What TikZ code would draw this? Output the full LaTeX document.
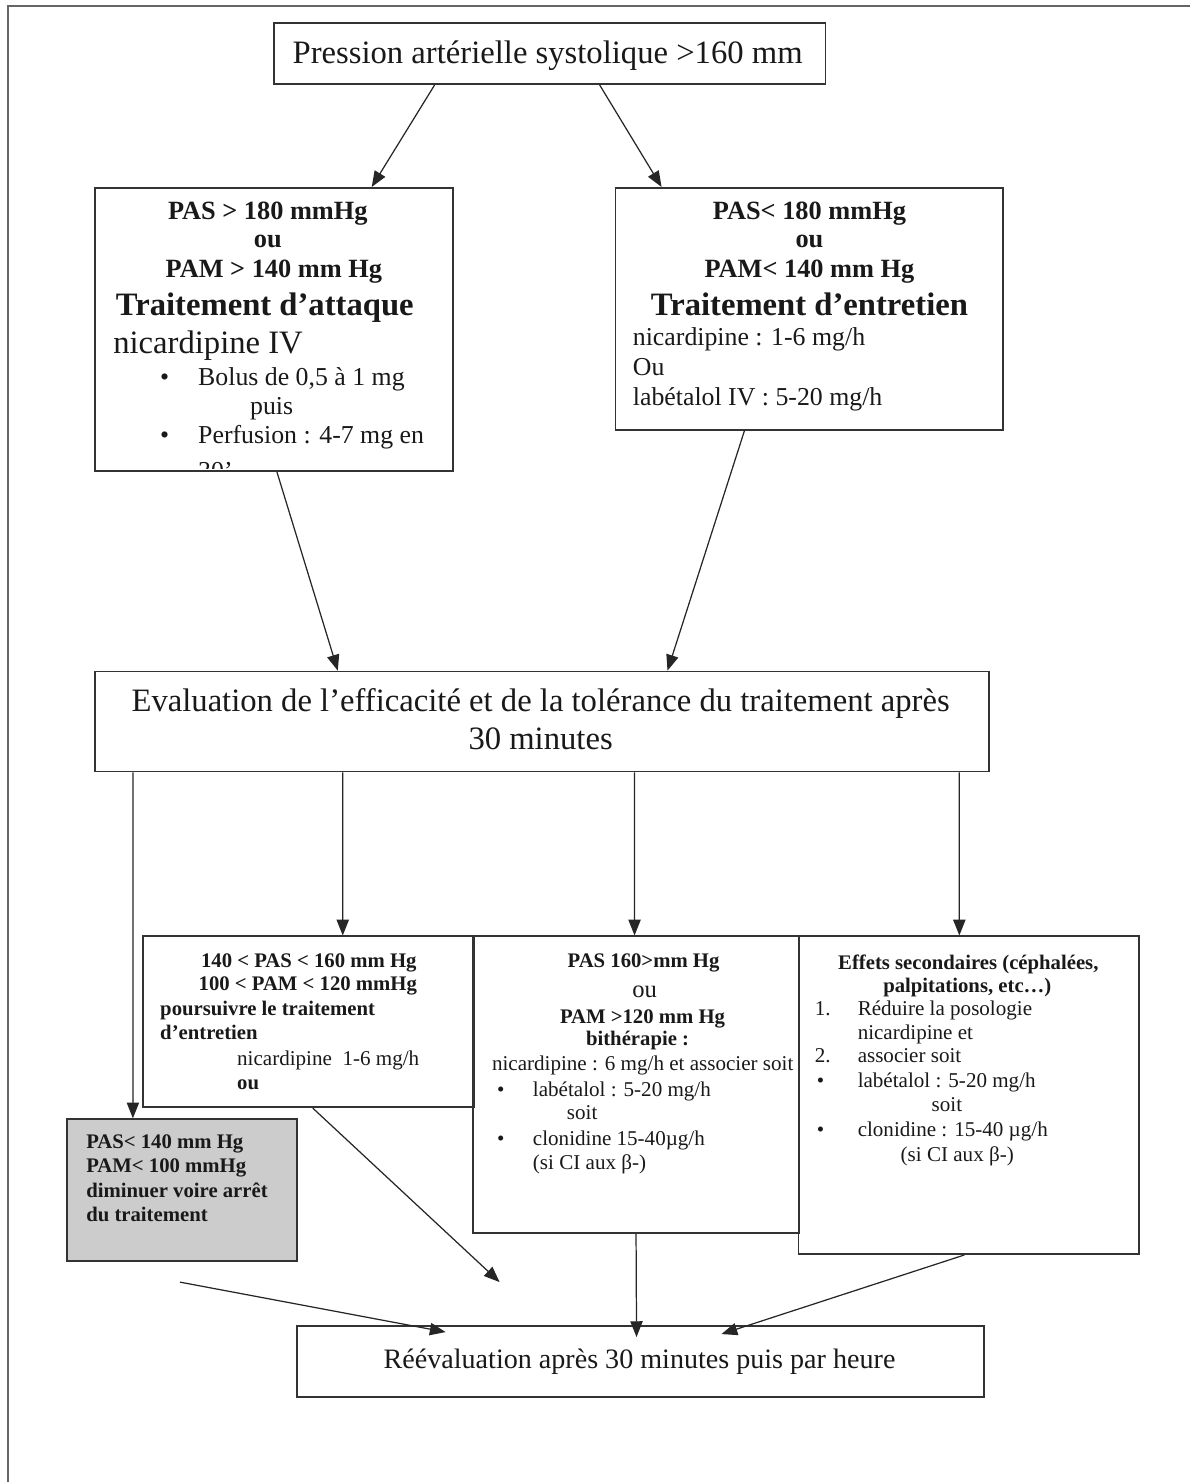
\documentclass[tikz,border=0pt]{standalone}
\usepackage{fontspec}
\setmainfont{Liberation Serif}
\usetikzlibrary{arrows.meta,fit}

\tikzset{
  box/.style={draw=black!80, line width=1pt, inner sep=0pt},
  arr/.style={-{Triangle[length=9pt,width=7pt]}, line width=0.7pt, draw=black!85},
  tx/.style={inner sep=0pt, text=black!90},
  bigr/.style={tx, font=\fontsize{18.6pt}{21.6pt}\selectfont},
  bigb/.style={tx, font=\fontsize{18.6pt}{21.6pt}\selectfont\bfseries},
  medr/.style={tx, font=\fontsize{14.7pt}{16.5pt}\selectfont},
  medb/.style={tx, font=\fontsize{15pt}{16.5pt}\selectfont\bfseries},
  smr/.style={tx, font=\fontsize{12pt}{13.5pt}\selectfont},
  smb/.style={tx, font=\fontsize{11.8pt}{13.5pt}\selectfont\bfseries},
}

\begin{document}
\begin{tikzpicture}[x=0.02cm,y=-0.02cm]
  \fill[white] (0,0) rectangle (1191,1483);
  \draw[black!60, line width=1.2pt] (8,1483) -- (8,6) -- (1191,6);

  % top and evaluation boxes
  \node[box, fit={(274,23) (826,84)}] (top) {};
  \node[bigr, anchor=base] (t1) at (548,64) {Pression artérielle systolique >160 mm};
  \node[box, fit={(95,672) (990,772)}] (eval) {};
  \node[bigr, anchor=base] (e1) at (541,712) {Evaluation de l’efficacité et de la tolérance du traitement après};
  \node[bigr, anchor=base] (e2) at (541,750) {30 minutes};
  \node[box, fit={(297,1327) (985,1398)}] (final) {};
  \node[tx, font=\fontsize{16pt}{19pt}\selectfont, anchor=base] (f1) at (640,1369) {Réévaluation après 30 minutes puis par heure};

  % left box
  \node[box, fit={(95,188) (453,471)}] (lbox) {};
  \node[medb, anchor=base] (l1) at (268,220) {PAS > 180 mmHg};
  \node[medb, anchor=base] (l2) at (268,248) {ou};
  \node[medb, anchor=base] (l3) at (274,278) {PAM > 140 mm Hg};
  \node[bigb, anchor=base] (l4) at (265,316) {Traitement d’attaque};
  \node[bigr, anchor=base west] (l5) at (113,354) {nicardipine IV};
  \node[medr, anchor=base west] (l6) at (160,386) {•};
  \node[medr, anchor=base west] (l7) at (198,386) {Bolus de 0,5 à 1 mg};
  \node[medr, anchor=base west] (l8) at (250,415) {puis};
  \node[medr, anchor=base west] (l9) at (160,444) {•};
  \node[medr, anchor=base west] (l10) at (198,444) {Perfusion : 4-7 mg en};
  \begin{scope}
    \clip (95,188) rectangle (453,469);
    \node[medr, anchor=base west] (l11) at (198,480) {30'};
  \end{scope}

  % right box
  \node[box, fit={(616,188) (1004,430)}] (rbox) {};
  \node[medb, anchor=base] (r1) at (810,220) {PAS< 180 mmHg};
  \node[medb, anchor=base] (r2) at (810,248) {ou};
  \node[medb, anchor=base] (r3) at (810,278) {PAM< 140 mm Hg};
  \node[bigb, anchor=base] (r4) at (810,316) {Traitement d’entretien};
  \node[medr, anchor=base west] (r5) at (633,346) {nicardipine : 1-6 mg/h};
  \node[medr, anchor=base west] (r6) at (633,376) {Ou};
  \node[medr, anchor=base west] (r7) at (633,406) {labétalol IV : 5-20 mg/h};

  % lower boxes
  \node[box, fit={(143,937) (474,1108)}] (m1) {};
  \node[smb, anchor=base] (a1) at (309,968) {140 < PAS < 160 mm Hg};
  \node[smb, anchor=base] (a2) at (308,991) {100 < PAM < 120 mmHg};
  \node[smb, anchor=base west] (a3) at (160,1016) {poursuivre le traitement};
  \node[smb, anchor=base west] (a4) at (160,1040) {d’entretien};
  \node[smr, anchor=base west] (a5) at (237,1066) {nicardipine\ \ 1-6 mg/h};
  \node[smb, anchor=base west] (a6) at (237,1090) {ou};

  \node[box, fit={(473,937) (800,1234)}] (m2) {};
  \node[smb, anchor=base] (b1) at (644,968) {PAS 160>mm Hg};
  \node[tx, font=\fontsize{14pt}{16pt}\selectfont, anchor=base] (b2) at (645,998) {ou};
  \node[smb, anchor=base] (b3) at (643,1024) {PAM >120 mm Hg};
  \node[smb, anchor=base] (b4) at (638,1046) {bithérapie :};
  \node[smr, anchor=base west] (b5) at (492,1071) {nicardipine : 6 mg/h et associer soit};
  \node[smr, anchor=base west] (b6) at (497,1097) {•};
  \node[smr, anchor=base west] (b7) at (533,1097) {labétalol : 5-20 mg/h};
  \node[smr, anchor=base west] (b8) at (567,1120) {soit};
  \node[smr, anchor=base west] (b9) at (497,1146) {•};
  \node[smr, anchor=base west] (b10) at (533,1146) {clonidine 15-40µg/h};
  \node[smr, anchor=base west] (b11) at (533,1170) {(si CI aux β-)};

  \node[box, fit={(799,937) (1140,1255)}] (m3) {};
  \node[smb, anchor=base] (c1) at (969,970) {Effets secondaires (céphalées,};
  \node[smb, anchor=base] (c2) at (968,993) {palpitations, etc…)};
  \node[smr, anchor=base west] (c3) at (815,1016) {1.};
  \node[smr, anchor=base west] (c4) at (858,1016) {Réduire la posologie};
  \node[smr, anchor=base west] (c5) at (858,1040) {nicardipine et};
  \node[smr, anchor=base west] (c6) at (815,1063) {2.};
  \node[smr, anchor=base west] (c7) at (858,1063) {associer soit};
  \node[smr, anchor=base west] (c8) at (817,1088) {•};
  \node[smr, anchor=base west] (c9) at (858,1088) {labétalol : 5-20 mg/h};
  \node[smr, anchor=base west] (c10) at (932,1112) {soit};
  \node[smr, anchor=base west] (c11) at (817,1137) {•};
  \node[smr, anchor=base west] (c12) at (858,1137) {clonidine : 15-40 µg/h};
  \node[smr, anchor=base west] (c13) at (901,1162) {(si CI aux β-)};

  % grey box
  \node[box, fill=black!20, fit={(67,1120) (297,1262)}] (grey) {};
  \node[smb, anchor=base west] (g1) at (86,1149) {PAS< 140 mm Hg};
  \node[smb, anchor=base west] (g2) at (86,1173) {PAM< 100 mmHg};
  \node[smb, anchor=base west] (g3) at (86,1198) {diminuer voire arrêt};
  \node[smb, anchor=base west] (g4) at (86,1222) {du traitement};

  % free arrow ends
  \coordinate (p1) at (500,1283);
  \coordinate (q0) at (180,1283);
  \coordinate (q1) at (446,1333);
  \coordinate (p2) at (637,1338);
  \coordinate (p3) at (722,1335);

  % arrows
  \draw[arr] ([xshift=-2.3cm]top.south) -- ([xshift=1.96cm]lbox.north);
  \draw[arr] ([xshift=1cm]top.south) -- ([xshift=-2.96cm]rbox.north);
  \draw[arr] ([xshift=0.06cm]lbox.south) -- ([xshift=-4.09cm]eval.north);
  \draw[arr] ([xshift=-1.3cm]rbox.south) -- ([xshift=2.51cm]eval.north);
  \draw[arr] ([xshift=-8.19cm]eval.south) -- ([xshift=-0.98cm]grey.north);
  \draw[arr] ([xshift=-3.99cm]eval.south) -- ([xshift=0.69cm]m1.north);
  \draw[arr] ([xshift=1.85cm]eval.south) -- ([xshift=-0.03cm]m2.north);
  \draw[arr] ([xshift=8.35cm]eval.south) -- ([xshift=-0.19cm]m3.north);
  \draw[arr] ([xshift=0.09cm]m1.south) -- (p1);
  \draw[arr] (q0) -- (q1);
  \draw[arr] (m2.south) -- (p2);
  \draw[arr] ([xshift=-0.09cm]m3.south) -- (p3);
\end{tikzpicture}
\end{document}
